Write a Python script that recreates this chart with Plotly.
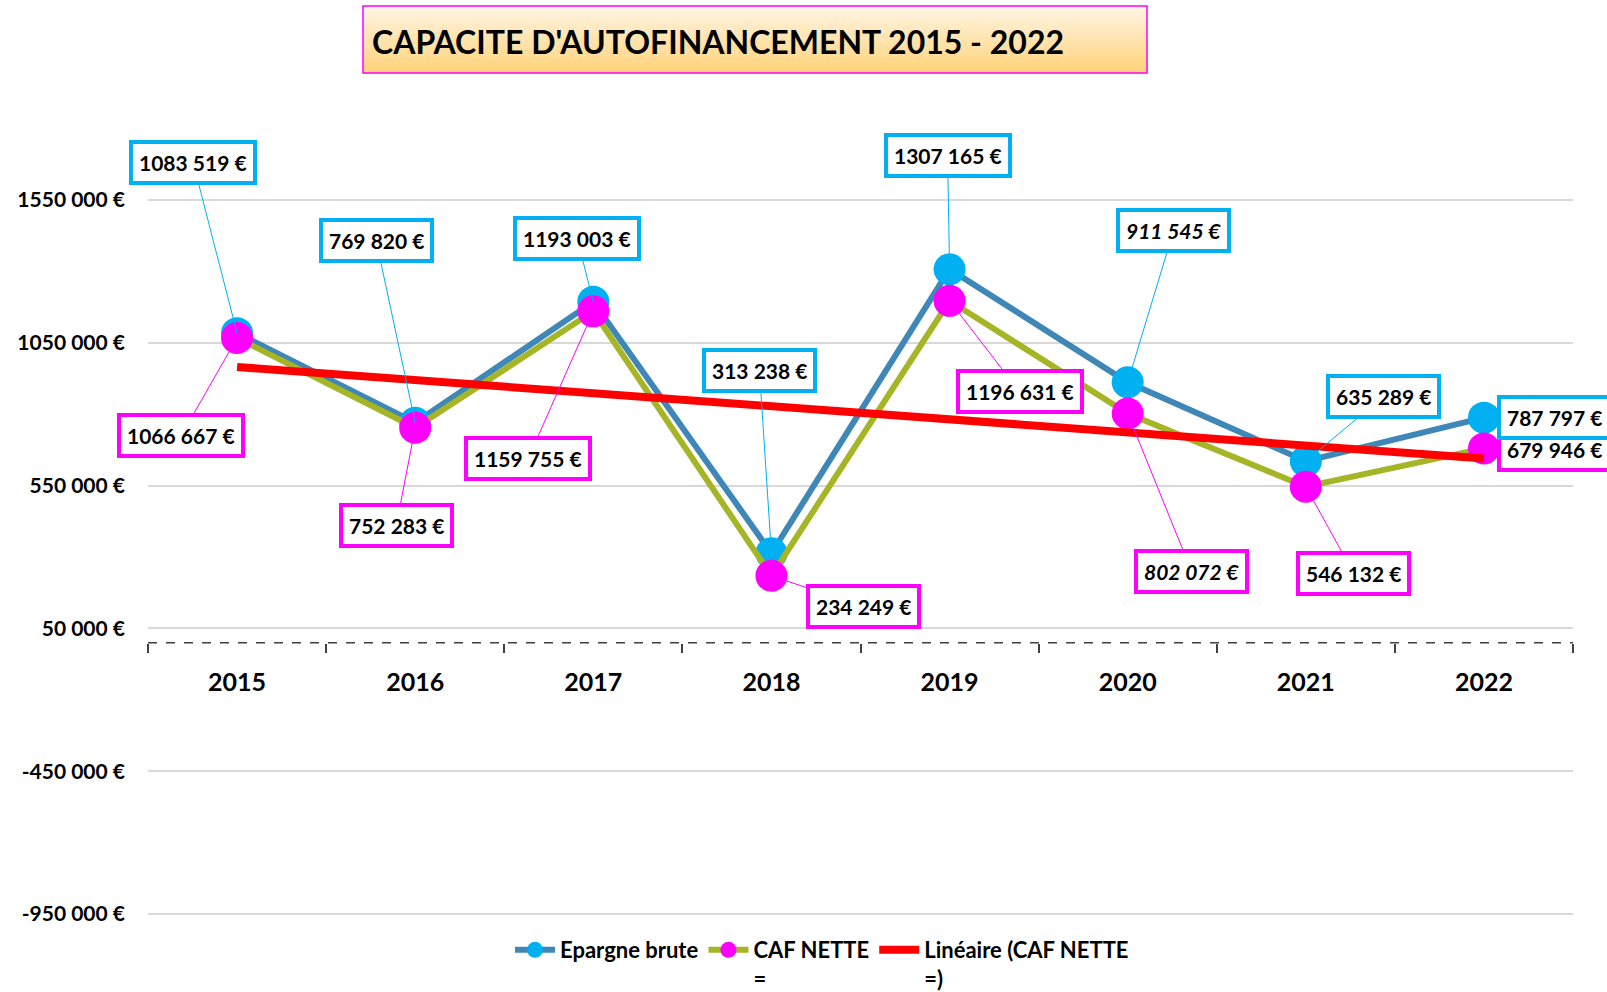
import numpy as np
import plotly.graph_objects as go

# ---------------- data ----------------
years = ["2015", "2016", "2017", "2018", "2019", "2020", "2021", "2022"]
epargne_brute = [1083519, 769820, 1193003, 313238, 1307165, 911545, 635289, 787797]
caf_nette = [1066667, 752283, 1159755, 234249, 1196631, 802072, 546132, 679946]
y_ticks = [-950000, -450000, 50000, 550000, 1050000, 1550000]
italic_years = ["2020"]

title_text = "CAPACITE D'AUTOFINANCEMENT 2015 - 2022"
name_ep = "Epargne brute"
name_caf = "CAF NETTE<br>="
name_trend = "Linéaire (CAF NETTE<br>=)"

# label offsets (pixels from point to label box centre) - layout only
ep_off = [(-44, -171), (-39, -182), (-16, -63), (-12, -183), (-2, -114), (46, -152), (78, -65), (71, 0)]
caf_off = [(-56, 98), (-19, 98), (-65, 147), (92, 31), (70, 91), (64, 158), (48, 87), (71, 1)]


def eur(v):
    s = "-" if v < 0 else ""
    a = abs(int(round(v)))
    if a >= 1000:
        return f"{s}{a // 1000} {a % 1000:03d} €"
    return f"{s}{a} €"


# linear trend of CAF NETTE (least squares, as Excel's "Linéaire")
idx = np.arange(len(years))
coef = np.polyfit(idx, caf_nette, 1)
trend = np.polyval(coef, idx)

# ---------------- layout constants ----------------
W, H = 1607, 992
L, R, T, B = 148, 34, 197, 75
YMIN, YMAX = -960000, 1560000
FONT = "Lato"
C_EP_LINE, C_EP_MK = "#3F87B6", "#00B0F0"
C_CAF_LINE, C_CAF_MK = "#A5B526", "#FF00FF"


def px_x(x):
    return (x - L) / (W - L - R)


def px_y(y):
    return (H - B - y) / (H - T - B)


fig = go.Figure()
fig.add_trace(go.Scatter(
    x=years, y=epargne_brute, name=name_ep, mode="lines+markers",
    line=dict(color=C_EP_LINE, width=6),
    marker=dict(color=C_EP_MK, size=32),
))
fig.add_trace(go.Scatter(
    x=years, y=caf_nette, name=name_caf, mode="lines+markers",
    line=dict(color=C_CAF_LINE, width=6),
    marker=dict(color=C_CAF_MK, size=32),
))
fig.add_trace(go.Scatter(
    x=years, y=trend, name=name_trend, mode="lines",
    line=dict(color="#FF0000", width=8),
))

annotations = []
for series, offs, col in ((caf_nette, caf_off, C_CAF_MK), (epargne_brute, ep_off, C_EP_MK)):
    for i, (yr, v, (dx, dy)) in enumerate(zip(years, series, offs)):
        annotations.append(dict(
            x=i, y=v, xref="x", yref="y", text=eur(v),
            showarrow=True, arrowhead=0, arrowwidth=1, arrowcolor=col,
            ax=dx, ay=dy, standoff=0,
            font=dict(family=FONT, size=21, color="black", weight="bold",
                      style="italic" if yr in italic_years else "normal"),
            bgcolor="white", bordercolor=col, borderwidth=4, borderpad=6,
        ))

# title
annotations.append(dict(
    x=px_x(370), y=px_y(41), xref="paper", yref="paper", xanchor="left", yanchor="middle",
    text=title_text, showarrow=False,
    font=dict(family=FONT, size=32, color="black", weight="bold"),
))

shapes = []
# gradient title box
bx0, bx1, by0, by1 = 363, 1147, 6, 73
n = 30
top_rgb = np.array([255, 246, 230])
bot_rgb = np.array([255, 210, 120])
for k in range(n):
    t = (k + 0.5) / n
    c = (top_rgb * (1 - t) + bot_rgb * t).astype(int)
    ya = by0 + (by1 - by0) * k / n
    yb = by0 + (by1 - by0) * (k + 1) / n + 0.6
    shapes.append(dict(type="rect", xref="paper", yref="paper",
                       x0=px_x(bx0), x1=px_x(bx1), y0=px_y(yb), y1=px_y(ya),
                       fillcolor=f"rgb({c[0]},{c[1]},{c[2]})", line=dict(width=0), layer="below"))
shapes.append(dict(type="rect", xref="paper", yref="paper",
                   x0=px_x(bx0), x1=px_x(bx1), y0=px_y(by1), y1=px_y(by0),
                   line=dict(color="#FF00FF", width=1.5), fillcolor="rgba(0,0,0,0)"))
# dashed category axis at zero
shapes.append(dict(type="line", xref="x", yref="y", x0=-0.5, x1=len(years) - 0.5, y0=0, y1=0,
                   line=dict(color="#404040", width=1.5, dash="dash"), layer="below"))

fig.update_layout(
    width=W, height=H,
    margin=dict(l=L, r=R, t=T, b=B, autoexpand=False),
    paper_bgcolor="white", plot_bgcolor="white",
    font=dict(family=FONT, color="black"),
    showlegend=True,
    legend=dict(orientation="h", xref="paper", yref="paper",
                x=px_x(822), xanchor="center", y=px_y(929), yanchor="top",
                font=dict(family=FONT, size=22, color="black", weight="bold"),
                valign="top", bgcolor="rgba(0,0,0,0)", itemwidth=40,
                tracegroupgap=0),
    xaxis=dict(type="category", range=[-0.5, len(years) - 0.5],
               anchor="free", position=(0 - YMIN) / (YMAX - YMIN), automargin=False,
               showgrid=False, showline=False, zeroline=False,
               tickson="boundaries", ticks="outside", ticklen=9, tickwidth=1.5,
               tickcolor="#404040", ticklabelstandoff=22,
               tickfont=dict(family=FONT, size=25, color="black", weight="bold")),
    yaxis=dict(range=[YMIN, YMAX], tickmode="array", tickvals=y_ticks,
               ticktext=[eur(v) for v in y_ticks], automargin=False,
               showgrid=True, gridcolor="#D9D9D9", gridwidth=1.5,
               zeroline=False, showline=False, ticks="", ticklabelstandoff=22,
               tickfont=dict(family=FONT, size=21, color="black", weight="bold")),
    annotations=annotations,
    shapes=shapes,
)

fig.write_html(
    "out.html",
    config={"displayModeBar": False},
    post_script="document.body.style.margin='0';document.body.style.overflow='hidden';",
)
